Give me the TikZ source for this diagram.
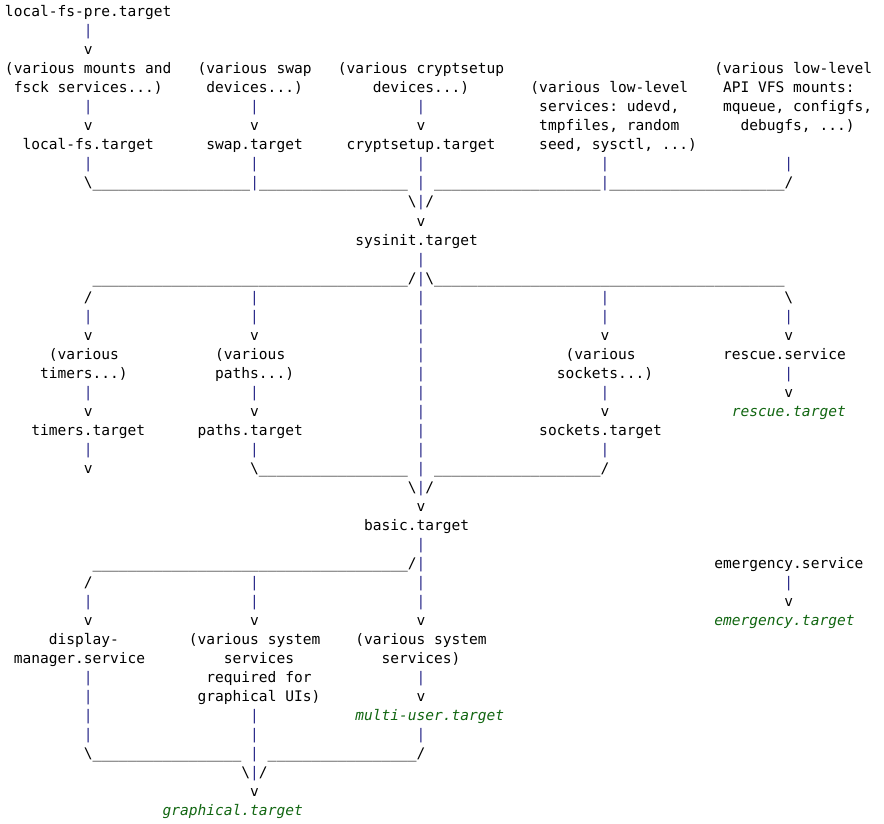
\documentclass[tikz,border=0pt]{standalone}
\usepackage{fontspec}
\setmonofont{DejaVu Sans Mono}
\definecolor{bar}{HTML}{2A2A8A}
\definecolor{tgt}{HTML}{116611}
\definecolor{txt}{HTML}{000000}
\newcommand\B{\textcolor{bar}{|}}
\newcommand\us[1]{\foreach\i in {1,...,#1}{\_}}
\newcommand\bs{\textbackslash}
\newcommand\G[1]{\textcolor{tgt}{\itshape #1}}
\newcommand\R[3]{\node[ln] (r#1c#2) at ({5+#2*8.758pt},{-(17+19*#1)*1pt}) {#3};}
\tikzset{ln/.style={anchor=base west,inner sep=0pt,outer sep=0pt,text=txt,
  font=\ttfamily\fontsize{14.55pt}{19pt}\selectfont}}
\begin{document}
\begin{tikzpicture}
\useasboundingbox (0,0) rectangle (884pt,-824pt);
\R{0}{0}{local-fs-pre.target}
\R{1}{9}{\B}
\R{2}{9}{v}
\R{3}{0}{(various mounts and}
\R{3}{22}{(various swap}
\R{3}{38}{(various cryptsetup}
\R{3}{81}{(various low-level}
\R{4}{1}{fsck services...)}
\R{4}{23}{devices...)}
\R{4}{42}{devices...)}
\R{4}{60}{(various low-level}
\R{4}{82}{API VFS mounts:}
\R{5}{9}{\B}\R{5}{28}{\B}\R{5}{47}{\B}
\R{5}{61}{services: udevd,}
\R{5}{82}{mqueue, configfs,}
\R{6}{9}{v}\R{6}{28}{v}\R{6}{47}{v}
\R{6}{61}{tmpfiles, random}
\R{6}{84}{debugfs, ...)}
\R{7}{2}{local-fs.target}
\R{7}{23}{swap.target}
\R{7}{39}{cryptsetup.target}
\R{7}{61}{seed, sysctl, ...)}
\R{8}{9}{\B}\R{8}{28}{\B}\R{8}{47}{\B}\R{8}{68}{\B}\R{8}{89}{\B}
\R{9}{9}{\bs\us{18}\B\us{17}}
\R{9}{47}{\B}
\R{9}{49}{\us{19}\B\us{20}/}
\R{10}{46}{\bs\B/}
\R{11}{47}{v}
\R{12}{40}{sysinit.target}
\R{13}{47}{\B}
\R{14}{10}{\us{36}/\B\bs\us{40}}
\R{15}{9}{/}\R{15}{28}{\B}\R{15}{47}{\B}\R{15}{68}{\B}\R{15}{89}{\bs}
\R{16}{9}{\B}\R{16}{28}{\B}\R{16}{47}{\B}\R{16}{68}{\B}\R{16}{89}{\B}
\R{17}{9}{v}\R{17}{28}{v}\R{17}{47}{\B}\R{17}{68}{v}\R{17}{89}{v}
\R{18}{5}{(various}\R{18}{24}{(various}\R{18}{47}{\B}\R{18}{64}{(various}\R{18}{82}{rescue.service}
\R{19}{4}{timers...)}\R{19}{24}{paths...)}\R{19}{47}{\B}\R{19}{63}{sockets...)}\R{19}{89}{\B}
\R{20}{9}{\B}\R{20}{28}{\B}\R{20}{47}{\B}\R{20}{68}{\B}\R{20}{89}{v}
\R{21}{9}{v}\R{21}{28}{v}\R{21}{47}{\B}\R{21}{68}{v}\R{21}{83}{\G{rescue.target}}
\R{22}{3}{timers.target}\R{22}{22}{paths.target}\R{22}{47}{\B}\R{22}{61}{sockets.target}
\R{23}{9}{\B}\R{23}{28}{\B}\R{23}{47}{\B}\R{23}{68}{\B}
\R{24}{9}{v}
\R{24}{28}{\bs\us{17}}
\R{24}{47}{\B}
\R{24}{49}{\us{19}/}
\R{25}{46}{\bs\B/}
\R{26}{47}{v}
\R{27}{41}{basic.target}
\R{28}{47}{\B}
\R{29}{10}{\us{36}/\B}
\R{29}{81}{emergency.service}
\R{30}{9}{/}\R{30}{28}{\B}\R{30}{47}{\B}\R{30}{89}{\B}
\R{31}{9}{\B}\R{31}{28}{\B}\R{31}{47}{\B}\R{31}{89}{v}
\R{32}{9}{v}\R{32}{28}{v}\R{32}{47}{v}\R{32}{81}{\G{emergency.target}}
\R{33}{5}{display-}\R{33}{21}{(various system}\R{33}{40}{(various system}
\R{34}{1}{manager.service}\R{34}{25}{services}\R{34}{43}{services)}
\R{35}{9}{\B}\R{35}{23}{required for}\R{35}{47}{\B}
\R{36}{9}{\B}\R{36}{22}{graphical UIs)}\R{36}{47}{v}
\R{37}{9}{\B}\R{37}{28}{\B}\R{37}{40}{\G{multi-user.target}}
\R{38}{9}{\B}\R{38}{28}{\B}\R{38}{47}{\B}
\R{39}{9}{\bs\us{17}}
\R{39}{28}{\B}
\R{39}{30}{\us{17}/}
\R{40}{27}{\bs\B/}
\R{41}{28}{v}
\R{42}{18}{\G{graphical.target}}
\end{tikzpicture}
\end{document}
